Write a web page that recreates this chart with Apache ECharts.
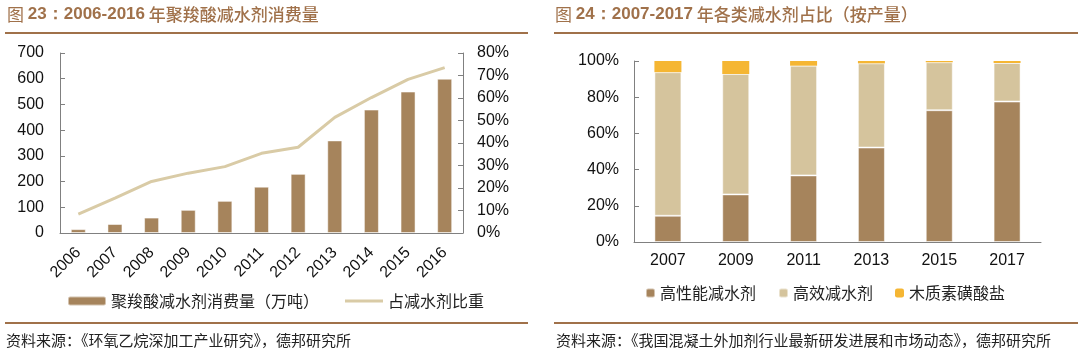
<!DOCTYPE html>
<html><head><meta charset="utf-8">
<script src="https://cdn.jsdelivr.net/npm/echarts@6/dist/echarts.min.js"></script>
<style>html,body{margin:0;padding:0;background:#fff}#c{width:1080px;height:358px}</style>
</head><body><div id="c"></div>
<script>
// Left chart data
const years1 = ['2006','2007','2008','2009','2010','2011','2012','2013','2014','2015','2016'];
const consumption = [15, 35, 60, 90, 125, 180, 230, 360, 480, 550, 600];
const sharePct = [8.4, 15.5, 22.9, 26.6, 29.5, 35.4, 38.1, 51.4, 60.2, 68.3, 73.5];
const leftTicks = [0, 700, 100];
const rightTicks = [0, 0.8, 0.1];
// Right chart data
const years2 = ['2007','2009','2011','2013','2015','2017'];
const highPerf = [14.5, 26.3, 36.8, 52.2, 72.8, 77.6];
const highEff = [79.3, 66.5, 60.6, 46.5, 26.5, 21.3];
const lignin = [6.2, 7.2, 2.6, 1.3, 0.7, 1.1];
const names = ['聚羧酸减水剂消费量（万吨）', '占减水剂比重', '高性能减水剂', '高效减水剂', '木质素磺酸盐'];

const BROWN = '#a6845c', TAN = '#d5c49d', ORANGE = '#f5b633', LINE = '#d9cba6', HEAD = '#a0714a';
const AX = '#808080';
const numFont = '"Liberation Sans", Arial, sans-serif';
const cjkFont = '"Noto Sans CJK SC", sans-serif';

const chart = echarts.init(document.getElementById('c'), null, {renderer: 'canvas'});

function titleRich(num, rest) {
  return {
    type: 'text',
    style: {
      rich: {
        a: {fontFamily: cjkFont, fontSize: 17, fill: HEAD},
        b: {fontFamily: numFont, fontSize: 17, fontWeight: 'bold', fill: HEAD},
        c: {fontFamily: cjkFont, fontSize: 17, fill: HEAD, fontWeight: 500}
      },
      text: '{a|图 }{b|' + num + '}{c|' + rest + '}'
    }
  };
}
const t1 = titleRich('23：2006-2016', ' 年聚羧酸减水剂消费量'); t1.left = 7; t1.top = 6;
const t2 = titleRich('24：2007-2017', ' 年各类减水剂占比（按产量）'); t2.left = 555; t2.top = 6;

const axisLabel = {color: '#111', fontFamily: numFont, fontSize: 16};
const lineIcon = 'path://M0,0L40,0L40,3L0,3Z';

chart.setOption({
  animation: false,
  graphic: [
    t1, t2,
    {type: 'rect', shape: {x: 5, y: 32, width: 523, height: 2}, style: {fill: HEAD}},
    {type: 'rect', shape: {x: 554, y: 32, width: 524, height: 2}, style: {fill: HEAD}},
    {type: 'rect', shape: {x: 5, y: 322, width: 523, height: 2}, style: {fill: HEAD}},
    {type: 'rect', shape: {x: 554, y: 322, width: 524, height: 2}, style: {fill: HEAD}},
    {type: 'text', left: 6, top: 333, style: {text: '资料来源：《环氧乙烷深加工产业研究》，德邦研究所', fontFamily: cjkFont, fontSize: 15, fill: '#222'}},
    {type: 'text', left: 556, top: 333, style: {text: '资料来源：《我国混凝土外加剂行业最新研发进展和市场动态》，德邦研究所', fontFamily: cjkFont, fontSize: 15, fill: '#222'}}
  ],
  legend: [
    {left: 62, top: 288, itemGap: 26, itemWidth: 38, itemHeight: 9,
     data: [{name: names[0]}, {name: names[1], icon: lineIcon}],
     textStyle: {fontFamily: cjkFont, fontSize: 16, color: '#222'}},
    {left: 640, top: 280, itemGap: 22, data: [names[2], names[3], names[4]], itemWidth: 9, itemHeight: 9,
     textStyle: {fontFamily: cjkFont, fontSize: 16, color: '#222'}}
  ],
  grid: [
    {left: 60, top: 53, width: 403, height: 180},
    {left: 634, top: 61, width: 407, height: 181}
  ],
  xAxis: [
    {type: 'category', gridIndex: 0, data: years1,
     axisLine: {lineStyle: {color: AX}}, axisTick: {inside: true, length: 5, lineStyle: {color: AX}},
     axisLabel: Object.assign({}, axisLabel, {rotate: 45, margin: 17, interval: 0})},
    {type: 'category', gridIndex: 1, data: years2,
     axisLine: {lineStyle: {color: AX}}, axisTick: {inside: true, length: 5, lineStyle: {color: AX}},
     axisLabel: Object.assign({}, axisLabel, {margin: 11, interval: 0})}
  ],
  yAxis: [
    {type: 'value', gridIndex: 0, min: leftTicks[0], max: leftTicks[1], interval: leftTicks[2],
     axisLine: {show: true, lineStyle: {color: AX}}, axisTick: {show: true, inside: true, length: 5, lineStyle: {color: AX}},
     splitLine: {show: false}, axisLabel: Object.assign({}, axisLabel, {margin: 16})},
    {type: 'value', gridIndex: 0, position: 'right', min: rightTicks[0], max: rightTicks[1], interval: rightTicks[2],
     axisLine: {show: true, lineStyle: {color: AX}}, axisTick: {show: true, inside: true, length: 5, lineStyle: {color: AX}},
     splitLine: {show: false},
     axisLabel: Object.assign({}, axisLabel, {margin: 14, formatter: v => Math.round(v * 100) + '%'})},
    {type: 'value', gridIndex: 1, min: 0, max: 100, interval: 20,
     axisLine: {show: true, lineStyle: {color: AX}}, axisTick: {show: true, inside: true, length: 5, lineStyle: {color: AX}},
     splitLine: {show: false},
     axisLabel: Object.assign({}, axisLabel, {margin: 15, formatter: v => v + '%'})}
  ],
  series: [
    {name: names[0], type: 'bar', xAxisIndex: 0, yAxisIndex: 0, data: consumption, barWidth: 15,
     itemStyle: {color: BROWN, borderColor: 'rgba(255,255,255,0.5)', borderWidth: 1}},
    {name: names[1], type: 'line', xAxisIndex: 0, yAxisIndex: 1, data: sharePct.map(v => v / 100),
     symbol: 'none', lineStyle: {color: LINE, width: 3}, itemStyle: {color: LINE}},
    {name: names[2], type: 'bar', stack: 's', xAxisIndex: 1, yAxisIndex: 2, data: highPerf, barWidth: 27,
     itemStyle: {color: BROWN, borderColor: 'rgba(255,255,255,0.5)', borderWidth: 1}},
    {name: names[3], type: 'bar', stack: 's', xAxisIndex: 1, yAxisIndex: 2, data: highEff, barWidth: 27,
     itemStyle: {color: TAN, borderColor: 'rgba(255,255,255,0.5)', borderWidth: 1}},
    {name: names[4], type: 'bar', stack: 's', xAxisIndex: 1, yAxisIndex: 2, data: lignin, barWidth: 27,
     itemStyle: {color: ORANGE}}
  ]
});
</script></body></html>
